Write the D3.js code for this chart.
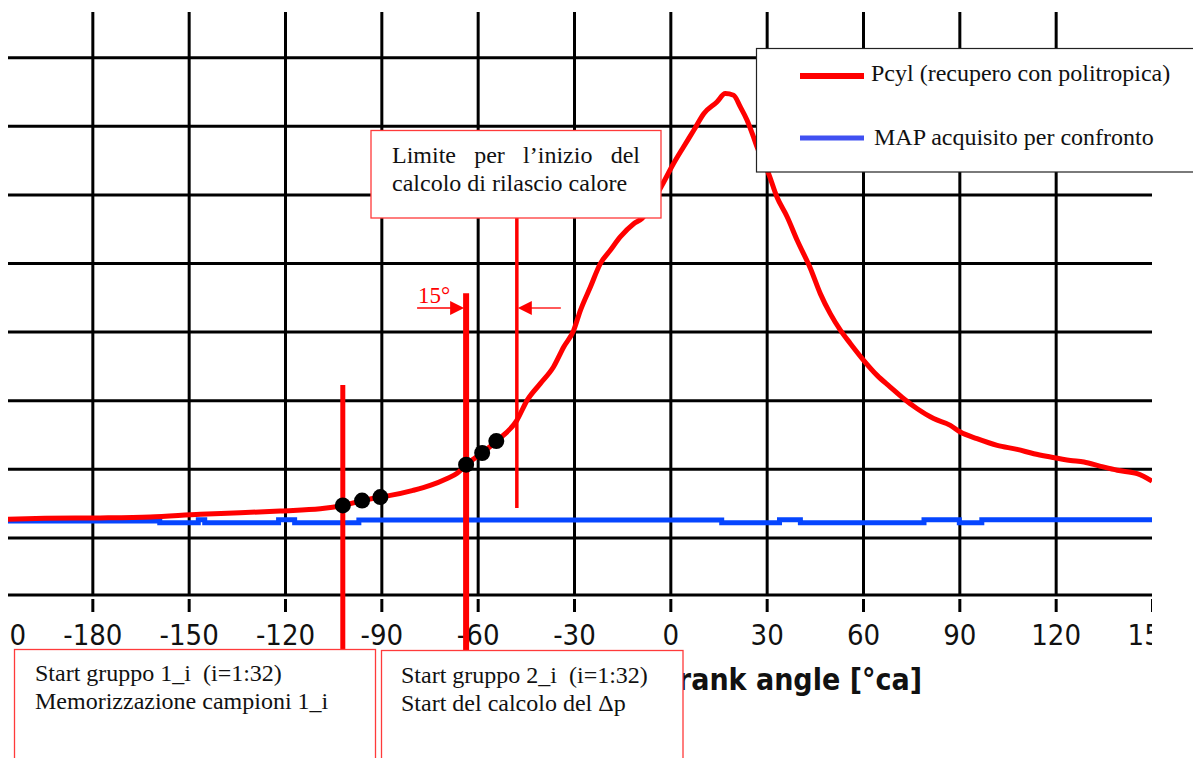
<!DOCTYPE html>
<html><head><meta charset="utf-8">
<script src="https://cdn.jsdelivr.net/npm/d3@7"></script>
<style>html,body{margin:0;padding:0;background:#fff;overflow:hidden}</style>
</head><body><svg id="c" width="1193" height="758"></svg>
<script>
// ---- data ----
const pcylAngles = [-210,-194.7,-177.6,-162,-146.4,-134,-121.5,-109,-101.8,-96,-90.3,-87.2,-80.1,-74.8,-69.5,-66.4,-63.6,-58.6,-54.2,-47.8,-44.6,-40.5,-36.4,-33.2,-30.1,-28,-24.9,-21.8,-18.7,-15.6,-11.4,-8.8,-2.6,1,4.1,7.3,10.4,14.5,17.1,19.7,21.8,23.9,25.9,27,30.6,33.2,36.4,39.5,43.6,46.7,49.8,53,56.1,60.2,64.4,68.5,72.7,76.9,82,87.2,90.3,95.5,101.8,108,113.2,118.4,124.6,128.8,134,139.2,145.4,150];
const pcylValues = [1.31,1.39,1.42,1.49,1.68,1.79,1.93,2.08,2.33,2.68,2.94,3.06,3.43,3.79,4.30,4.67,5.30,6.15,7.02,8.53,9.99,11.21,12.42,13.88,15.09,16.55,18.25,19.96,20.93,21.90,22.87,23.26,25.67,27.25,28.46,29.68,30.89,31.74,32.35,32.23,31.38,30.41,29.19,28.46,26.52,24.81,23.36,21.66,19.62,17.77,16.31,15.09,14.12,12.91,11.81,10.96,10.11,9.38,8.66,8.17,7.68,7.20,6.71,6.42,6.10,5.86,5.61,5.49,5.18,4.89,4.64,4.10];
const mapAngles = [-210,-159,-147,-145,-122,-117,-97,16,34,40.5,79,90,97,150];
const mapValues = [1.20,1.06,1.28,1.06,1.28,1.06,1.27,1.06,1.28,1.06,1.28,1.06,1.28,1.28];
const markerAngles = [-102,-96,-90.3,-63.6,-58.6,-54.2];
const markerValues = [2.33,2.68,2.94,5.30,6.15,7.02];
const xTicks = [-210,-180,-150,-120,-90,-60,-30,0,30,60,90,120,150];
const xGrid = [-180,-150,-120,-90,-60,-30,0,30,60,90,120];
const yGrid = [0,5,10,15,20,25,30,35];
const start1Angle = -102, start1Top = 11.1;
const start2Angle = -63.6, start2Top = 17.8;
const limitAngle = -47.8, limitBottom = 2.14;
const seriesNames = ["Pcyl (recupero con politropica)", "MAP acquisito per confronto"];
const xTitle = "Crank angle [°ca]";

// ---- scales ----
const svg = d3.select("#c");
const x = d3.scaleLinear().domain([-210,150]).range([-4,1152]);
const y = d3.scaleLinear().domain([-4.2,38.3]).range([595,12]);
const plotL = 8, plotR = 1152, plotT = 12, plotB = 595;

svg.append("defs").append("clipPath").attr("id","clipx")
  .append("rect").attr("x",plotL).attr("y",0).attr("width",plotR-plotL).attr("height",758);

// horizontal grid
const gy = svg.append("g").attr("transform",`translate(${plotL},0)`)
  .call(d3.axisLeft(y).tickValues(yGrid).tickSize(-(plotR-plotL)).tickFormat(""));
gy.select(".domain").remove();
gy.selectAll("line").attr("stroke","#000").attr("stroke-width",3);

// vertical grid
const gx = svg.append("g").attr("transform",`translate(0,${plotB})`)
  .call(d3.axisBottom(x).tickValues(xGrid).tickSize(-(plotB-plotT)).tickFormat(""));
gx.select(".domain").remove();
gx.selectAll("line").attr("stroke","#000").attr("stroke-width",3);

// bottom axis line
svg.append("line").attr("x1",plotL).attr("x2",plotR).attr("y1",plotB).attr("y2",plotB)
  .attr("stroke","#000").attr("stroke-width",3);

// ticks + labels
const ga = svg.append("g").attr("clip-path","url(#clipx)").append("g")
  .attr("transform",`translate(0,${plotB})`)
  .call(d3.axisBottom(x).tickValues(xTicks).tickSize(0).tickFormat(d=>String(d)));
ga.select(".domain").remove();
ga.selectAll(".tick").append("line").attr("y1",4).attr("y2",17)
  .attr("stroke","#000").attr("stroke-width",3);
ga.selectAll("text").attr("y",50).attr("dy",0)
  .attr("font-family","'DejaVu Sans Condensed','DejaVu Sans',sans-serif")
  .attr("font-stretch","condensed")
  .attr("font-size",29).attr("fill","#111");

// axis title (partly hidden by box 2)
svg.append("text").attr("x",922).attr("y",690).attr("text-anchor","end")
  .attr("font-family","'DejaVu Sans Condensed','DejaVu Sans',sans-serif")
  .attr("font-stretch","condensed")
  .attr("font-weight","bold").attr("font-size",30).attr("fill","#111").text(xTitle);

// series
const mapData = mapAngles.map((a,i)=>[a,mapValues[i]]);
const pData = pcylAngles.map((a,i)=>[a,pcylValues[i]]);
const plotG = svg.append("g").attr("clip-path","url(#clipx)");
plotG.append("path").datum(mapData)
  .attr("d", d3.line().x(d=>x(d[0])).y(d=>y(d[1])).curve(d3.curveStepAfter))
  .attr("fill","none").attr("stroke","#0545ff").attr("stroke-width",5);
plotG.append("path").datum(pData)
  .attr("d", d3.line().x(d=>x(d[0])).y(d=>y(d[1])).curve(d3.curveMonotoneX))
  .attr("fill","none").attr("stroke","#ff0000").attr("stroke-width",5);

// vertical annotation lines
svg.append("line").attr("x1",x(start1Angle)).attr("x2",x(start1Angle))
  .attr("y1",y(start1Top)).attr("y2",650).attr("stroke","#ff0000").attr("stroke-width",5);
svg.append("line").attr("x1",x(start2Angle)).attr("x2",x(start2Angle))
  .attr("y1",y(start2Top)).attr("y2",651).attr("stroke","#ff0000").attr("stroke-width",6);
svg.append("line").attr("x1",x(limitAngle)).attr("x2",x(limitAngle))
  .attr("y1",218).attr("y2",y(limitBottom)).attr("stroke","#ff0000").attr("stroke-width",3.5);

// markers
svg.append("g").selectAll("circle").data(markerAngles).join("circle")
  .attr("cx",(d)=>x(d)).attr("cy",(d,i)=>y(markerValues[i])).attr("r",8).attr("fill","#000");

const serif = "'Liberation Serif','Times New Roman',serif";
const fs = 24;

// 15° arrows
const ay = 308;
const x2 = x(start2Angle)-2, xl = x(limitAngle)+1;
svg.append("line").attr("x1",x2-47).attr("x2",x2-12).attr("y1",ay).attr("y2",ay)
  .attr("stroke","#ff0000").attr("stroke-width",1.3);
svg.append("path").attr("d",`M${x2},${ay} L${x2-14},${ay-7} L${x2-14},${ay+7} Z`).attr("fill","#ff0000");
svg.append("line").attr("x1",xl+12).attr("x2",xl+43).attr("y1",ay).attr("y2",ay)
  .attr("stroke","#ff0000").attr("stroke-width",1.3);
svg.append("path").attr("d",`M${xl},${ay} L${xl+14},${ay-7} L${xl+14},${ay+7} Z`).attr("fill","#ff0000");
svg.append("text").attr("x",x2-46).attr("y",303).attr("font-family",serif)
  .attr("font-size",23).attr("fill","#ff0000").text("15°");

// Limite box
svg.append("rect").attr("x",371).attr("y",130.5).attr("width",290).attr("height",87.5)
  .attr("fill","#fff").attr("stroke","#ff3a3a").attr("stroke-width",1.3);
(function(){
  const words = ["Limite","per","l’inizio","del"];
  const x0 = 392, x1 = 640;
  const ts = words.map(w=>svg.append("text").attr("y",163).attr("font-family",serif)
    .attr("font-size",fs).attr("fill","#111").text(w));
  const ws = ts.map(t=>t.node().getComputedTextLength());
  const gap = (x1-x0-d3.sum(ws))/(words.length-1);
  let cx = x0;
  ts.forEach((t,i)=>{t.attr("x",cx); cx += ws[i]+gap;});
})();
svg.append("text").attr("x",392).attr("y",191).attr("font-family",serif)
  .attr("font-size",fs).attr("fill","#111").text("calcolo di rilascio calore");

// legend
svg.append("rect").attr("x",756.5).attr("y",48.5).attr("width",460).attr("height",123.5)
  .attr("fill","#fff").attr("stroke","#222").attr("stroke-width",1.2);
svg.append("line").attr("x1",800).attr("x2",864).attr("y1",76).attr("y2",76)
  .attr("stroke","#ff0000").attr("stroke-width",6);
svg.append("line").attr("x1",800).attr("x2",864).attr("y1",138).attr("y2",138)
  .attr("stroke","#4050f2").attr("stroke-width",5);
svg.append("text").attr("x",871).attr("y",81).attr("font-family",serif)
  .attr("font-size",fs).attr("fill","#111").text(seriesNames[0]);
svg.append("text").attr("x",874).attr("y",144.5).attr("font-family",serif)
  .attr("font-size",fs).attr("fill","#111").text(seriesNames[1]);

// bottom boxes
svg.append("rect").attr("x",14.5).attr("y",649.5).attr("width",361).attr("height",130)
  .attr("fill","#fff").attr("stroke","#ff3a3a").attr("stroke-width",1.3);
svg.append("text").attr("x",35).attr("y",681).attr("font-family",serif).attr("font-size",fs)
  .attr("fill","#111").style("white-space","pre").text("Start gruppo 1_i  (i=1:32)");
svg.append("text").attr("x",35).attr("y",709).attr("font-family",serif).attr("font-size",fs)
  .attr("fill","#111").text("Memorizzazione campioni 1_i");

svg.append("rect").attr("x",381.5).attr("y",650.5).attr("width",301.5).attr("height",130)
  .attr("fill","#fff").attr("stroke","#ff3a3a").attr("stroke-width",1.3);
svg.append("text").attr("x",401).attr("y",683).attr("font-family",serif).attr("font-size",fs)
  .attr("fill","#111").style("white-space","pre").text("Start gruppo 2_i  (i=1:32)");
svg.append("text").attr("x",401).attr("y",711).attr("font-family",serif).attr("font-size",fs)
  .attr("fill","#111").text("Start del calcolo del Δp");
</script></body></html>
